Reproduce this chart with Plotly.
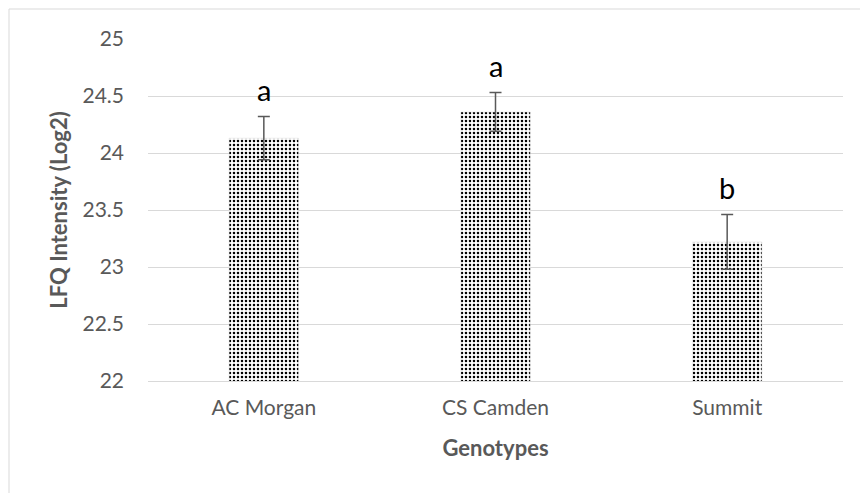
import plotly.graph_objects as go

# Mean LFQ intensity per genotype with standard error and significance letters
genotypes = ["AC Morgan", "CS Camden", "Summit"]
lfq_mean = [24.13, 24.36, 23.22]
lfq_err = [0.19, 0.17, 0.24]
sig_letters = ["a", "a", "b"]

y_ticks = [22, 22.5, 23, 23.5, 24, 24.5, 25]
y_tick_text = ["22", "22.5", "23", "23.5", "24", "24.5", "25"]

FONT = "Lato, 'Open Sans', sans-serif"
TXT = "#595959"
GRID = "#d9d9d9"

fig = go.Figure()
fig.add_trace(go.Bar(
    x=genotypes,
    y=lfq_mean,
    width=0.30,
    marker=dict(
        color="white",
        line=dict(color="#e0e0e0", width=0.5),
        pattern=dict(shape=".", fgcolor="black", bgcolor="white",
                     size=4, solidity=0.32, fillmode="replace"),
    ),
    error_y=dict(type="data", array=lfq_err, visible=True,
                 color=TXT, thickness=1.5, width=6),
    hoverinfo="skip",
))

for g, m, e, s in zip(genotypes, lfq_mean, lfq_err, sig_letters):
    fig.add_annotation(x=g, y=m + e, text=s, showarrow=False,
                       yanchor="bottom", yshift=8,
                       font=dict(family=FONT, size=29, color="black"))

# outer chart border
fig.add_shape(type="rect", xref="paper", yref="paper",
              x0=-0.2, x1=1.04, y0=-0.36, y1=1.0877,
              line=dict(color=GRID, width=1), fillcolor="rgba(0,0,0,0)",
              layer="below")

fig.update_layout(
    width=860, height=493,
    margin=dict(l=148, r=17, t=39, b=112),
    paper_bgcolor="white", plot_bgcolor="white",
    showlegend=False,
    font=dict(family=FONT, size=21, color=TXT),
    xaxis=dict(
        title=dict(text="<b>Genotypes</b>", font=dict(size=22, color=TXT), standoff=22),
        showgrid=False, showline=True, linecolor=GRID, linewidth=1,
        ticks="", ticklabelstandoff=8, tickfont=dict(size=21, color=TXT),
    ),
    yaxis=dict(
        title=dict(text="<b>LFQ Intensity (Log2)</b>", font=dict(size=22, color=TXT), standoff=8),
        range=[22, 25], tickvals=y_ticks, ticktext=y_tick_text,
        showgrid=True, gridcolor=GRID, gridwidth=1,
        zeroline=False, ticks="", ticklen=0, ticklabelstandoff=23,
        tickfont=dict(size=21, color=TXT),
    ),
)

fig.write_html("out.html")
